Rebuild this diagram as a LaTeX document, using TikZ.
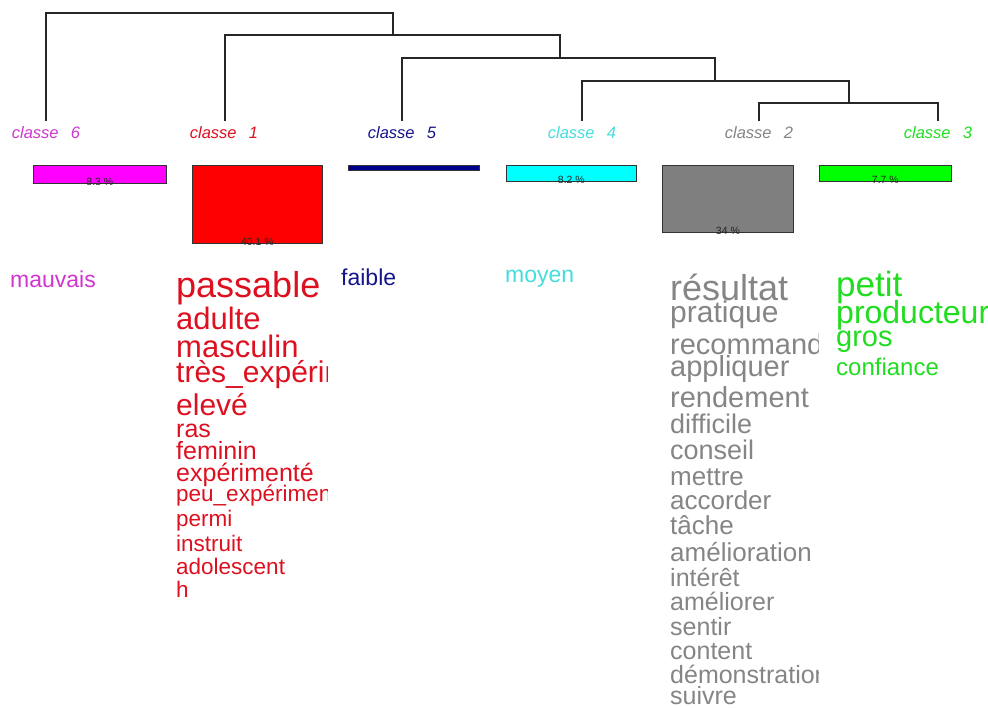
\documentclass[tikz,border=0pt]{standalone}
\usepackage{fontspec}
\setmainfont{Liberation Sans}
\definecolor{cmag}{HTML}{FF00FF}
\definecolor{cred}{HTML}{FF0000}
\definecolor{cnavy}{HTML}{00008B}
\definecolor{ccyan}{HTML}{00FFFF}
\definecolor{cgray}{HTML}{7F7F7F}
\definecolor{cgreen}{HTML}{00FF00}
\definecolor{tmag}{HTML}{D035D0}
\definecolor{tred}{HTML}{DD1020}
\definecolor{tnavy}{HTML}{14148C}
\definecolor{tcyan}{HTML}{45DCDC}
\definecolor{tgray}{HTML}{858585}
\definecolor{tgreen}{HTML}{20DD20}
\begin{document}
\begin{tikzpicture}[x=1pt,y=-1pt,
  dend/.style={line width=1.3pt, black!85},
  lab/.style={font=\fontsize{16.5}{16.5}\selectfont\itshape, anchor=base, inner sep=0},
  bar/.style={draw=black!80, line width=0.8pt, anchor=north west, inner sep=0, minimum height=#1},
  pct/.style={font=\fontsize{10.5}{10.5}\selectfont, text=black!85, anchor=base, inner sep=0},
  word/.style={anchor=base west, inner sep=0},
  fs/.style={font=\fontsize{#1}{#1}\selectfont},
]
\useasboundingbox (0,0) rectangle (988,708);
% class labels
\node[lab, text=tmag]  (l6) at (46,139)  {classe\hspace{0.75em}6};
\node[lab, text=tred]  (l1) at (224,139) {classe\hspace{0.75em}1};
\node[lab, text=tnavy] (l5) at (402,139) {classe\hspace{0.75em}5};
\node[lab, text=tcyan] (l4) at (582,139) {classe\hspace{0.75em}4};
\node[lab, text=tgray] (l2) at (759,139) {classe\hspace{0.75em}2};
\node[lab, text=tgreen](l3) at (938,139) {classe\hspace{0.75em}3};
% dendrogram
\coordinate (t6) at (46,121);
\coordinate (t1) at (225,121);
\coordinate (t5) at (402,121);
\coordinate (t4) at (582,121);
\coordinate (t2) at (759,121);
\coordinate (t3) at (938,121);
\coordinate (m5) at (849,103);
\coordinate (m4) at (715,81);
\coordinate (m3) at (560,58);
\coordinate (m2) at (393,35);
\coordinate (m1) at (220,13);
\draw[dend] (t2) |- (m5) -| (t3);
\draw[dend] (t4) |- (m4) -| (m5);
\draw[dend] (t5) |- (m3) -| (m4);
\draw[dend] (t1) |- (m2) -| (m3);
\draw[dend] (t6) |- (m1) -| (m2);
% bars
\node[bar=18pt, fill=cmag, minimum width=133pt] (b6) at (33,165) {};
\node[bar=78pt, fill=cred, minimum width=130pt] (b1) at (192,165) {};
\node[bar=5pt, fill=cnavy, minimum width=131pt] (b5) at (348,165) {};
\node[bar=16pt, fill=ccyan, minimum width=130pt] (b4) at (506,165) {};
\node[bar=67pt, fill=cgray, minimum width=131pt] (b2) at (662,165) {};
\node[bar=16pt, fill=cgreen, minimum width=132pt] (b3) at (819,165) {};
\node[pct] (p6) at ([yshift=-1.5pt]b6.south) {8.3 \%};
\node[pct] (p1) at ([yshift=-1.5pt]b1.south) {40.1 \%};
\node[pct] (p4) at ([yshift=-1.5pt]b4.south) {8.2 \%};
\node[pct] (p2) at ([yshift=-1.5pt]b2.south) {34 \%};
\node[pct] (p3) at ([yshift=-1.5pt]b3.south) {7.7 \%};
% single words
\node[word, fs=23, text=tmag] (w6a) at (10,288) {mauvais};
\node[word, fs=23, text=tnavy] (w5a) at (341,286) {faible};
\node[word, fs=23, text=tcyan] (w4a) at (505,283) {moyen};
% classe 1 words
\begin{scope}
\clip (170,250) rectangle (327,615);
\node[word, fs=36, text=tred] (r1) at (176,298) {passable};
\node[word, fs=31, text=tred] (r2) at (176,330) {adulte};
\node[word, fs=31, text=tred] (r3) at (176,358) {masculin};
\node[word, fs=30, text=tred] (r4) at (176,383) {très\_expérimenté};
\node[word, fs=30, text=tred] (r5) at (176,416) {elevé};
\node[word, fs=25, text=tred] (r6) at (176,437) {ras};
\node[word, fs=25, text=tred] (r7) at (176,459) {feminin};
\node[word, fs=25, text=tred] (r8) at (176,481) {expérimenté};
\node[word, fs=22.5, text=tred] (r9) at (176,501) {peu\_expérimenté};
\node[word, fs=22.5, text=tred] (r10) at (176,526) {permi};
\node[word, fs=22.5, text=tred] (r11) at (176,551) {instruit};
\node[word, fs=22.5, text=tred] (r12) at (176,574) {adolescent};
\node[word, fs=22.5, text=tred] (r13) at (176,597) {h};
\end{scope}
% classe 2 words
\begin{scope}
\clip (660,255) rectangle (818,708);
\node[word, fs=36, text=tgray] (g1) at (670,301) {résultat};
\node[word, fs=30, text=tgray] (g2) at (670,323) {pratique};
\node[word, fs=29, text=tgray] (g3) at (670,355) {recommandation};
\node[word, fs=29, text=tgray] (g4) at (670,377) {appliquer};
\node[word, fs=29, text=tgray] (g5) at (670,407) {rendement};
\node[word, fs=27, text=tgray] (g6) at (670,433) {difficile};
\node[word, fs=27, text=tgray] (g7) at (670,459) {conseil};
\node[word, fs=26, text=tgray] (g8) at (670,485) {mettre};
\node[word, fs=26, text=tgray] (g9) at (670,509) {accorder};
\node[word, fs=26, text=tgray] (g10) at (670,534) {tâche};
\node[word, fs=26, text=tgray] (g11) at (670,561) {amélioration};
\node[word, fs=25, text=tgray] (g12) at (670,586) {intérêt};
\node[word, fs=25, text=tgray] (g13) at (670,610) {améliorer};
\node[word, fs=25, text=tgray] (g14) at (670,635) {sentir};
\node[word, fs=25, text=tgray] (g15) at (670,659) {content};
\node[word, fs=25, text=tgray] (g16) at (670,683) {démonstration};
\node[word, fs=25, text=tgray] (g17) at (670,704) {suivre};
\end{scope}
% classe 3 words
\begin{scope}
\clip (830,255) rectangle (988,400);
\node[word, fs=35, text=tgreen] (v1) at (836,297) {petit};
\node[word, fs=32, text=tgreen] (v2) at (836,324) {producteur};
\node[word, fs=29, text=tgreen] (v3) at (836,347) {gros};
\node[word, fs=24, text=tgreen] (v4) at (836,376) {confiance};
\end{scope}
\end{tikzpicture}
\end{document}
